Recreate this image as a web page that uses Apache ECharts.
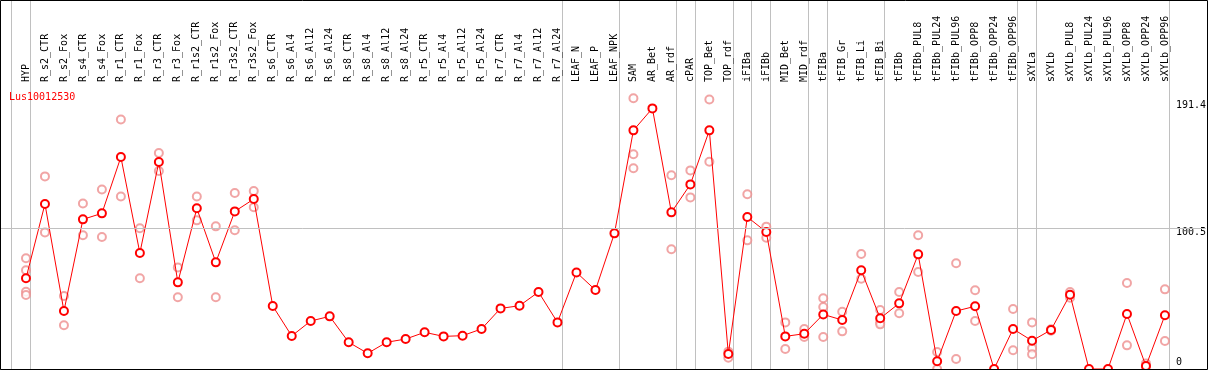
<!DOCTYPE html>
<html>
<head>
<meta charset="utf-8">
<script src="https://cdn.jsdelivr.net/npm/echarts@6/dist/echarts.min.js"></script>
<style>html,body{margin:0;padding:0;background:#fff;}#c{width:1209px;height:370px;}</style>
</head>
<body>
<div id="c"></div>
<script>
const chartTitle = 'Lus10012530';
const categories = ['HYP','R_s2_CTR','R_s2_Fox','R_s4_CTR','R_s4_Fox','R_r1_CTR','R_r1_Fox','R_r3_CTR','R_r3_Fox','R_r1s2_CTR','R_r1s2_Fox','R_r3s2_CTR','R_r3s2_Fox','R_s6_CTR','R_s6_Al4','R_s6_Al12','R_s6_Al24','R_s8_CTR','R_s8_Al4','R_s8_Al12','R_s8_Al24','R_r5_CTR','R_r5_Al4','R_r5_Al12','R_r5_Al24','R_r7_CTR','R_r7_Al4','R_r7_Al12','R_r7_Al24','LEAF_N','LEAF_P','LEAF_NPK','SAM','AR_Bet','AR_rdf','cPAR','TOP_Bet','TOP_rdf','iFIBa','iFIBb','MID_Bet','MID_rdf','tFIBa','tFIB_Gr','tFIB_Li','tFIB_Bi','tFIBb','tFIBb_PUL8','tFIBb_PUL24','tFIBb_PUL96','tFIBb_OPP8','tFIBb_OPP24','tFIBb_OPP96','sXYLa','sXYLb','sXYLb_PUL8','sXYLb_PUL24','sXYLb_PUL96','sXYLb_OPP8','sXYLb_OPP24','sXYLb_OPP96'];
const means = [64.8,117.9,41.4,106.9,111.2,151.4,82.9,147.9,61.9,114.8,76.2,112.6,121.4,45,23.6,34.3,37.6,19.1,11.2,19.1,21.4,26.2,23.3,23.8,28.6,43.3,45.2,55,33.3,69,56.4,96.9,170.5,186.2,111.9,131.9,170.5,10.7,108.6,97.9,23.3,25.2,39.0,35,70.5,36.2,46.9,81.9,5.5,41.4,44.8,0,28.6,20.2,27.9,53.1,0,0,39.3,2.1,38.4];
const replicates = [[79.1,70.5,55.2,52.9],[137.6,97.6],[52.1,31.2],[118.3,95.5],[128.3,94.3],[178.3,123.3],[100.5,64.8],[154.3,141.4],[72.6,51.2],[123.3,106.2],[101.9,51.2],[125.7,99.1],[127.1,115.5],
[],[],[],[],[],[],[],[],[],[],[],[],[],[],[],[],[],[],[],
[193.4,153.4,143.4],[],[138.4,85.5],[141.9,122.6],[192.6,148.1],[12.4,8.1],[124.8,91.9],[101.7,93.8],[33.3,14.3],[28.6,22.9],[50.5,44.3,22.9],[40.9,26.9],[82.1,64.5],[42.1,33.3,31.9],[55,39.8],[95.5,69.3],[12.1,0],[75.5,7.1],[56.2,34.3],[],[42.9,13.4],[33.3,14.8,10.5],[27.4,28.4],[55,50.9],[],[],[61.4,16.9],[4.0,1.7],[56.9,20]];
const groupSizes = [1,28,3,3,1,2,1,1,2,1,3,7,1,7];
const yTickValues = [0,100.5,191.4];
const yTickLabels = ['0','100.5','191.4'];
const refLineValue = 100.5;

const sepOffset = 0.22;
const sepValues = [-1 + sepOffset];
let acc = -1;
groupSizes.forEach(g => { acc += g; sepValues.push(acc + sepOffset); });

const repPoints = [];
replicates.forEach((arr, i) => arr.forEach(v => repPoints.push([i, v])));
const meanPoints = means.map((v, i) => [i, v]);
const idx = categories.map((_, i) => i);

const mono = 'DejaVu Sans Mono';
const chart = echarts.init(document.getElementById('c'), null, {renderer: 'canvas'});
chart.setOption({
  animation: false,
  backgroundColor: '#fff',
  title: {text: chartTitle, left: 9, top: 92, padding: 0,
    textStyle: {color: '#ff0000', fontSize: 10, fontWeight: 'normal', fontFamily: mono}},
  grid: {left: 1, right: 2, top: 85, bottom: 1, containLabel: false},
  xAxis: {
    type: 'value', position: 'top', min: -25/19, max: 1181/19,
    axisLine: {show: true, lineStyle: {color: '#000', width: 1}},
    axisTick: {show: false},
    splitLine: {show: false},
    axisLabel: {
      customValues: idx, rotate: 90, margin: 3,
      formatter: v => categories[Math.round(v)] || '',
      color: '#000', fontSize: 10, fontFamily: mono
    }
  },
  yAxis: {
    type: 'value', position: 'right', min: 0, max: 202.9,
    axisLine: {show: false}, axisTick: {show: false}, splitLine: {show: false},
    axisLabel: {
      inside: true, align: 'left', margin: 30,
      customValues: yTickValues,
      formatter: v => { const i = yTickValues.indexOf(v); const t = i >= 0 ? yTickLabels[i] : ''; return v === 0 ? '{z|' + t + '}' : '{a|' + t + '}'; },
      color: '#000', fontSize: 10, fontFamily: mono,
      rich: {
        a: {padding: [8, 0, 0, 0], fontSize: 10, fontFamily: mono, color: '#000'},
        z: {padding: [0, 0, 14, 0], fontSize: 10, fontFamily: mono, color: '#000'}
      }
    }
  },
  series: [
    {
      type: 'scatter', z: 2, silent: true,
      data: repPoints, symbol: 'emptyCircle', symbolSize: 8,
      itemStyle: {color: '#ee8e8e', borderColor: '#ee8e8e', borderWidth: 1.2},
      markLine: {silent: true, symbol: 'none', label: {show: false},
        lineStyle: {color: '#c0c0c0', type: 'solid', width: 1},
        data: [{yAxis: refLineValue}]}
    },
    {
      type: 'line', z: 3, silent: true,
      data: meanPoints, symbol: 'emptyCircle', symbolSize: 8, showAllSymbol: true,
      lineStyle: {color: '#ff0000', width: 1},
      itemStyle: {color: '#ff0000', borderColor: '#ff0000', borderWidth: 1.3}
    }
  ]
});

const bottomY = chart.convertToPixel({gridIndex: 0}, [0, 0])[1];
const graphics = sepValues.map(v => {
  const x = Math.round(chart.convertToPixel({gridIndex: 0}, [v, 0])[0]) + 0.5;
  return {type: 'line', silent: true, z: -1,
    shape: {x1: x, y1: 0, x2: x, y2: bottomY},
    style: {stroke: '#c0c0c0', lineWidth: 1}};
});
graphics.push({type: 'rect', silent: true, z: 100,
  shape: {x: 0.5, y: 0.5, width: 1207, height: 369},
  style: {fill: null, stroke: '#000', lineWidth: 1}});
chart.setOption({graphic: graphics});
</script>
</body>
</html>
